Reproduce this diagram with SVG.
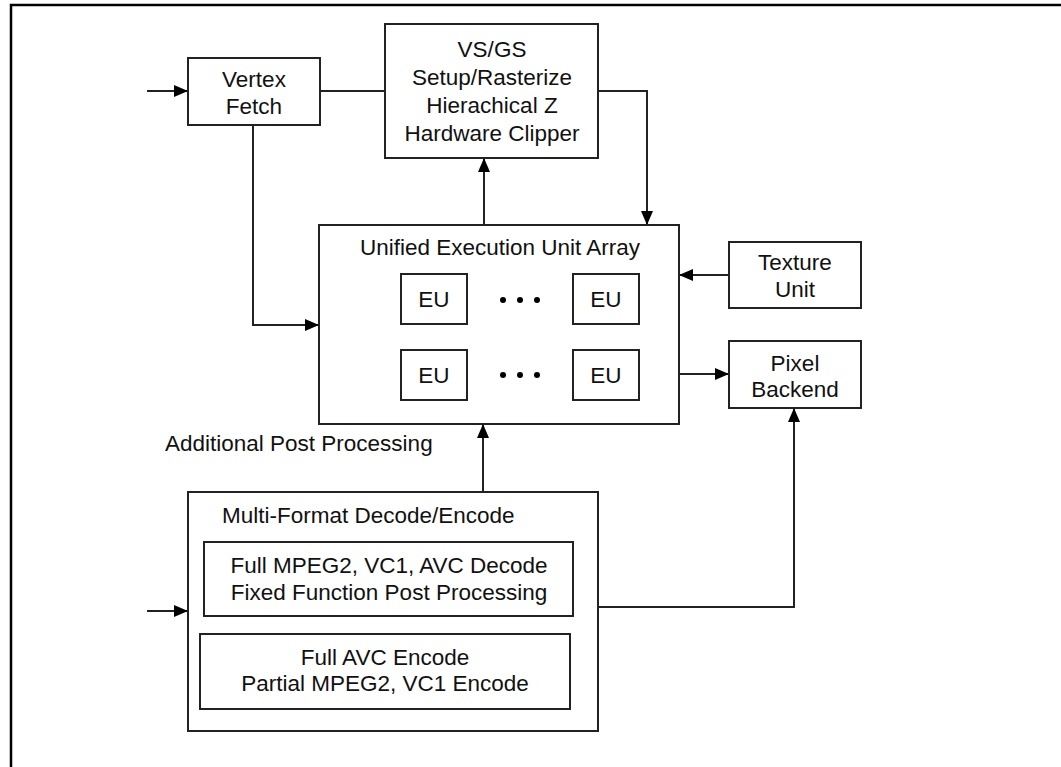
<svg xmlns="http://www.w3.org/2000/svg" width="1061" height="767" viewBox="0 0 1061 767">
<style>
.box{fill:#fff;stroke:#222;stroke-width:2}
.t{font-family:"Liberation Sans",Arial,sans-serif;font-size:22.5px;fill:#111;text-anchor:middle;dominant-baseline:central}
.tl{font-family:"Liberation Sans",Arial,sans-serif;font-size:22.5px;fill:#111;dominant-baseline:central}
.c{fill:none;stroke:#222;stroke-width:2}
</style>
<defs>
<marker id="ah" viewBox="0 0 14 12" refX="14" refY="6" markerWidth="14" markerHeight="12" markerUnits="userSpaceOnUse" orient="auto">
<path d="M0,0 L14,6 L0,12 Z" fill="#000"/>
</marker>
</defs>
<rect width="1061" height="767" fill="#fff"/>
<path d="M11,767 V5 H1061" fill="none" stroke="#000" stroke-width="2.5"/>
<g id="connectors">
<path class="c" d="M147,91 H188" marker-end="url(#ah)"/>
<path class="c" d="M320,91 H385"/>
<path class="c" d="M598,91 H647 V225" marker-end="url(#ah)"/>
<path class="c" d="M484,225 V158" marker-end="url(#ah)"/>
<path class="c" d="M253,125 V325 H319" marker-end="url(#ah)"/>
<path class="c" d="M729,275 H679" marker-end="url(#ah)"/>
<path class="c" d="M679,374 H729" marker-end="url(#ah)"/>
<path class="c" d="M483,492 V424" marker-end="url(#ah)"/>
<path class="c" d="M598,607 H794 V408" marker-end="url(#ah)"/>
<path class="c" d="M147,611 H188" marker-end="url(#ah)"/>
</g>
<g id="vertex-fetch">
<rect class="box" x="188" y="58" width="132" height="67"/>
<text class="t" x="254" y="79">Vertex</text>
<text class="t" x="254" y="106">Fetch</text>
</g>
<g id="vsgs">
<rect class="box" x="385" y="24" width="213" height="134"/>
<text class="t" x="492" y="49">VS/GS</text>
<text class="t" x="492" y="77">Setup/Rasterize</text>
<text class="t" x="492" y="105">Hierachical Z</text>
<text class="t" x="492" y="133">Hardware Clipper</text>
</g>
<g id="unified">
<rect class="box" x="319" y="225" width="360" height="199"/>
<text class="t" x="500" y="247">Unified Execution Unit Array</text>
<rect class="box" x="401" y="274" width="66" height="50"/>
<text class="t" x="434" y="299">EU</text>
<rect class="box" x="573" y="274" width="66" height="50"/>
<text class="t" x="606" y="299">EU</text>
<rect class="box" x="401" y="350" width="66" height="50"/>
<text class="t" x="434" y="375">EU</text>
<rect class="box" x="573" y="350" width="66" height="50"/>
<text class="t" x="606" y="375">EU</text>
<circle cx="503" cy="300" r="3" fill="#000"/>
<circle cx="520" cy="300" r="3" fill="#000"/>
<circle cx="537" cy="300" r="3" fill="#000"/>
<circle cx="503" cy="375" r="3" fill="#000"/>
<circle cx="520" cy="375" r="3" fill="#000"/>
<circle cx="537" cy="375" r="3" fill="#000"/>
</g>
<g id="texture-unit">
<rect class="box" x="729" y="242" width="132" height="66"/>
<text class="t" x="795" y="262">Texture</text>
<text class="t" x="795" y="289">Unit</text>
</g>
<g id="pixel-backend">
<rect class="box" x="729" y="341" width="132" height="67"/>
<text class="t" x="795" y="363">Pixel</text>
<text class="t" x="795" y="389">Backend</text>
</g>
<g id="post-label">
<text class="tl" x="165" y="443">Additional Post Processing</text>
</g>
<g id="multi-format">
<rect class="box" x="188" y="492" width="410" height="239"/>
<text class="tl" x="222" y="515">Multi-Format Decode/Encode</text>
<rect class="box" x="204" y="542" width="369" height="74"/>
<text class="t" x="389" y="565">Full MPEG2, VC1, AVC Decode</text>
<text class="t" x="389" y="592">Fixed Function Post Processing</text>
<rect class="box" x="200" y="634" width="370" height="75"/>
<text class="t" x="385" y="657">Full AVC Encode</text>
<text class="t" x="385" y="683">Partial MPEG2, VC1 Encode</text>
</g>
</svg>
